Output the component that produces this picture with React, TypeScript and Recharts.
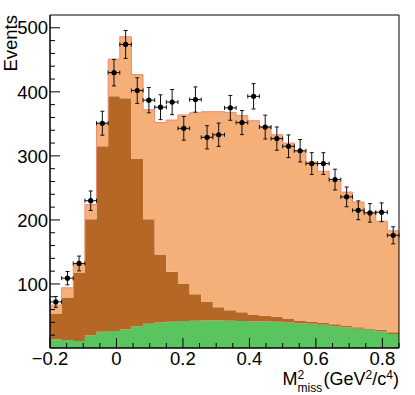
import React from 'react';
import { ComposedChart, Area, Scatter, ErrorBar, XAxis, YAxis, ReferenceArea } from 'recharts';

// bin edges of the M^2_miss histogram (30 bins)
const binEdges = [
  -0.2, -0.165, -0.13, -0.095, -0.06, -0.025, 0.01, 0.045, 0.08, 0.115, 0.15,
  0.185, 0.22, 0.255, 0.29, 0.325, 0.36, 0.395, 0.43, 0.465, 0.5, 0.535, 0.57,
  0.605, 0.64, 0.675, 0.71, 0.745, 0.78, 0.815, 0.85,
];

// stacked components, bottom to top
const signal = [
  13.5, 12.5, 11, 20, 25.5, 26.5, 29, 34, 38, 40, 41, 42, 42.5, 43, 43, 42.5, 42,
  41.5, 41.5, 41, 40, 38.5, 38, 36.5, 34, 32, 30, 28.5, 26, 22,
];
const peaking = [
  40.5, 66.5, 107, 181, 289.5, 366.5, 361, 261, 163, 106, 78, 58, 41.5, 29, 20.5,
  16.5, 14, 11, 9, 7.5, 6, 4.5, 3.5, 3.5, 3, 3, 2.5, 2, 2.5, 2.5,
];
const background = [
  13, 15, 12, 23, 36, 58, 96, 132, 171, 206, 237, 264, 283.5, 297, 305.5, 309,
  307, 302.5, 295.5, 284.5, 274, 264.5, 249, 236, 223.5, 208.5, 195.5, 181.5,
  169.5, 158.5,
];

// data points
const dataCounts = [
  72, 109, 132, 230, 351, 430, 474, 402, 387, 376, 384, 343, 388, 329, 333, 375,
  352, 393, 345, 327, 315, 308, 288, 288, 263, 236, 215, 211, 212, 176,
];
const dataErrors = [
  8.5, 10.4, 11.5, 15.2, 18.7, 20.7, 21.8, 20, 19.7, 19.4, 19.6, 18.5, 19.7, 18.1,
  18.2, 19.4, 18.8, 19.8, 18.6, 18.1, 17.7, 17.5, 17, 17, 16.2, 15.4, 14.7, 14.5,
  14.6, 13.3,
];

const xTicks = [
  -0.2, -0.15, -0.1, -0.05, 0, 0.05, 0.1, 0.15, 0.2, 0.25, 0.3, 0.35, 0.4, 0.45,
  0.5, 0.55, 0.6, 0.65, 0.7, 0.75, 0.8, 0.85,
];
const xLabels = ['-0.2', '0', '0.2', '0.4', '0.6', '0.8'];
const yTicks = [
  20, 40, 60, 80, 100, 120, 140, 160, 180, 200, 220, 240, 260, 280, 300, 320,
  340, 360, 380, 400, 420, 440, 460, 480, 500,
];
const yLabels = [100, 200, 300, 400, 500];

const FONT = '"Liberation Sans", Arial, Helvetica, sans-serif';

const histRows = binEdges.map((x, i) => {
  const j = Math.min(i, signal.length - 1);
  return { x, signal: signal[j], peaking: peaking[j], background: background[j] };
});

const points = dataCounts.map((y, i) => ({
  x: (binEdges[i] + binEdges[i + 1]) / 2,
  y,
  ex: (binEdges[i + 1] - binEdges[i]) / 2,
  ey: dataErrors[i],
}));

const YTick = (props: any) => {
  const { x, y, payload } = props;
  const major = yLabels.includes(payload.value);
  return (
    <g>
      <line x1={x} x2={x + (major ? 10 : 5)} y1={y} y2={y} stroke="#000" />
      {major && (
        <text x={x - 2} y={y} dy="0.36em" textAnchor="end" fontSize={18.5} fontFamily={FONT} fill="#000">
          {payload.value}
        </text>
      )}
    </g>
  );
};

const XTick = (props: any) => {
  const { x, y, payload } = props;
  const label = xLabels.find((l) => Math.abs(parseFloat(l) - payload.value) < 1e-6);
  return (
    <g>
      <line x1={x} x2={x} y1={y} y2={y - (label ? 10 : 5)} stroke="#000" />
      {label && (
        <text x={x} y={y + 17} textAnchor="middle" fontSize={18.5} fontFamily={FONT} fill="#000">
          {label.replace('-', '\u2212')}
        </text>
      )}
    </g>
  );
};

const Dot = (props: any) => <circle cx={props.cx} cy={props.cy} r={2.6} fill="#000" />;

export default function App() {
  return (
    <div style={{ position: 'absolute', left: 0, top: 0, width: 415, height: 395, background: '#fff' }}>
      <ComposedChart width={415} height={395} data={histRows} margin={{ top: 15, right: 16, bottom: 0, left: 0 }}>
        <Area type="stepAfter" dataKey="signal" stackId="h" fill="#5AC45F" fillOpacity={1} stroke="none" isAnimationActive={false} />
        <Area type="stepAfter" dataKey="peaking" stackId="h" fill="#B56725" fillOpacity={1} stroke="none" isAnimationActive={false} />
        <Area type="stepAfter" dataKey="background" stackId="h" fill="#F5AF78" fillOpacity={1} stroke="#EA8C72" strokeWidth={1} isAnimationActive={false} />
        <Scatter data={points} dataKey="y" shape={<Dot />} isAnimationActive={false}>
          <ErrorBar dataKey="ey" direction="y" width={2} stroke="#111" strokeWidth={1} />
          <ErrorBar dataKey="ex" direction="x" width={2} stroke="#111" strokeWidth={1} />
        </Scatter>
        <ReferenceArea x1={-0.2} x2={0.85} y1={0} y2={520} fill="none" stroke="#000" strokeWidth={1} />
        <XAxis
          dataKey="x"
          type="number"
          domain={[-0.2, 0.85]}
          ticks={xTicks}
          allowDataOverflow
          height={47}
          tickSize={0}
          tickMargin={0}
          tickLine={false}
          axisLine={{ stroke: '#000' }}
          tick={<XTick />}
          interval={0}
        />
        <YAxis
          type="number"
          domain={[0, 520]}
          ticks={yTicks}
          allowDataOverflow
          width={50}
          tickSize={0}
          tickMargin={0}
          tickLine={false}
          axisLine={{ stroke: '#000' }}
          tick={<YTick />}
          interval={0}
        />
      </ComposedChart>
      <svg width={415} height={395} style={{ position: 'absolute', left: 0, top: 0, pointerEvents: 'none' }}>
        <text transform="translate(16.5,15) rotate(-90)" textAnchor="end" fontSize={18.5} fontFamily={FONT} fill="#000">
          Events
        </text>
        <text x={282.5} y={385} fontSize={18} fontFamily={FONT} fill="#000">
          M
        </text>
        <text x={297.5} y={378.5} fontSize={12} fontFamily={FONT} fill="#000">
          2
        </text>
        <text x={297.5} y={391.5} fontSize={12} fontFamily={FONT} fill="#000">
          miss
        </text>
        <text x={399} y={385} textAnchor="end" fontSize={18} fontFamily={FONT} fill="#000">
          (GeV
          <tspan fontSize={12} dy={-6.5}>2</tspan>
          <tspan dy={6.5}>/c</tspan>
          <tspan fontSize={12} dy={-6.5}>4</tspan>
          <tspan dy={6.5}>)</tspan>
        </text>
      </svg>
    </div>
  );
}
